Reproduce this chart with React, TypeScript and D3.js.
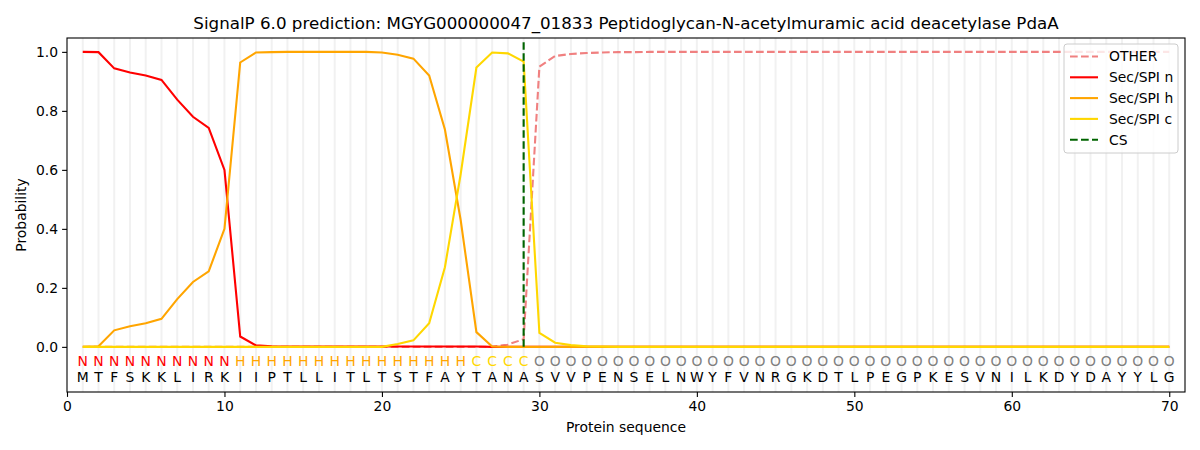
import React, { useEffect, useRef } from 'react';
import * as d3 from 'd3';

const sequence = 'MTFSKKLIRKIIPTLLITLTSTFAYTANASVVPENSELNWYFVNRGKDTLPEGPKESVNILKDYDAYYLG'.split('');
const regionLabels = 'NNNNNNNNNNHHHHHHHHHHHHHHHCCCCOOOOOOOOOOOOOOOOOOOOOOOOOOOOOOOOOOOOOOOOO'.split('');

const otherValues = [
  0, 0, 0, 0, 0, 0, 0, 0, 0, 0,
  0, 0, 0, 0, 0, 0, 0, 0, 0, 0,
  0, 0, 0, 0, 0, 0, 0, 0.008, 0.026, 0.95,
  0.986, 0.993, 0.996, 0.998, 0.999, 0.999, 1, 1, 1, 1,
  1, 1, 1, 1, 1, 1, 1, 1, 1, 1,
  1, 1, 1, 1, 1, 1, 1, 1, 1, 1,
  1, 1, 1, 1, 1, 1, 1, 1, 1, 1,
];
const nValues = [
  1.0, 0.999, 0.944, 0.93, 0.92, 0.905, 0.838, 0.78, 0.742, 0.6,
  0.035, 0.005, 0.002, 0.001, 0.001, 0.001, 0.001, 0.001, 0.001, 0.001,
  0.001, 0.001, 0.001, 0.001, 0.001, 0.001, 0, 0, 0, 0,
  0, 0, 0, 0, 0, 0, 0, 0, 0, 0,
  0, 0, 0, 0, 0, 0, 0, 0, 0, 0,
  0, 0, 0, 0, 0, 0, 0, 0, 0, 0,
  0, 0, 0, 0, 0, 0, 0, 0, 0, 0,
];
const hValues = [
  0, 0.002, 0.056, 0.07, 0.08, 0.095, 0.162, 0.22, 0.256, 0.4,
  0.964, 0.998, 0.999, 1, 1, 1, 1, 1, 1, 0.998,
  0.99, 0.977, 0.92, 0.737, 0.43, 0.05, 0.001, 0, 0, 0,
  0, 0, 0, 0, 0, 0, 0, 0, 0, 0,
  0, 0, 0, 0, 0, 0, 0, 0, 0, 0,
  0, 0, 0, 0, 0, 0, 0, 0, 0, 0,
  0, 0, 0, 0, 0, 0, 0, 0, 0, 0,
];
const cValues = [
  0, 0, 0, 0, 0, 0, 0, 0, 0, 0,
  0, 0, 0, 0, 0, 0, 0, 0, 0, 0,
  0.01, 0.022, 0.08, 0.27, 0.585, 0.947, 0.998, 0.995, 0.967, 0.047,
  0.014, 0.006, 0.002, 0.001, 0, 0, 0, 0, 0, 0,
  0, 0, 0, 0, 0, 0, 0, 0, 0, 0,
  0, 0, 0, 0, 0, 0, 0, 0, 0, 0,
  0, 0, 0, 0, 0, 0, 0, 0, 0, 0,
];
const csPosition = 29;
const csTop = 1.035;
const xTicks = [0, 10, 20, 30, 40, 50, 60, 70];
const yTicks = [0, 0.2, 0.4, 0.6, 0.8, 1.0];

const series = [
  { name: 'OTHER', values: otherValues, color: '#f08080', dashed: true },
  { name: 'Sec/SPI n', values: nValues, color: '#ff0000', dashed: false },
  { name: 'Sec/SPI h', values: hValues, color: '#ffa500', dashed: false },
  { name: 'Sec/SPI c', values: cValues, color: '#ffd700', dashed: false },
];

const labelColors: Record<string, string> = {
  N: '#ff0000',
  H: '#ffa500',
  C: '#ffd700',
  O: '#808080',
};

const W = 1200;
const H = 450;
const FONT = '"DejaVu Sans", sans-serif';

const App: React.FC = () => {
  const svgRef = useRef<SVGSVGElement>(null);

  useEffect(() => {
    if (!svgRef.current) return;
    const svg = d3.select(svgRef.current);
    svg.selectAll('*').remove();

    const margin = { top: 38, right: 15, bottom: 58, left: 67 };
    const x = d3.scaleLinear().domain([0, 71]).range([margin.left, W - margin.right]);
    const y = d3.scaleLinear().domain([-0.153, 1.047]).range([H - margin.bottom, margin.top]);

    svg.append('rect').attr('width', W).attr('height', H).attr('fill', 'white');

    // vertical grid, one line per residue
    svg.append('g')
      .selectAll('line')
      .data(sequence)
      .join('line')
      .attr('x1', (_, i) => x(i + 1))
      .attr('x2', (_, i) => x(i + 1))
      .attr('y1', y.range()[0])
      .attr('y2', y.range()[1])
      .attr('stroke', '#f1f1f1')
      .attr('stroke-width', 2);

    const line = d3.line<number>()
      .x((_, i) => x(i + 1))
      .y(d => y(d));

    series.forEach(s => {
      svg.append('path')
        .datum(s.values)
        .attr('d', line)
        .attr('fill', 'none')
        .attr('stroke', s.color)
        .attr('stroke-width', 2.1)
        .attr('stroke-dasharray', s.dashed ? '7.7,3.3' : null);
    });

    svg.append('line')
      .attr('x1', x(csPosition))
      .attr('x2', x(csPosition))
      .attr('y1', y(0))
      .attr('y2', y(csTop))
      .attr('stroke', '#006400')
      .attr('stroke-width', 2.1)
      .attr('stroke-dasharray', '7.7,3.3');

    // sequence letters
    const letters = svg.append('g')
      .attr('font-family', FONT)
      .attr('font-size', '13.9px')
      .attr('text-anchor', 'middle');
    letters.selectAll('text.lab')
      .data(regionLabels)
      .join('text')
      .attr('class', 'lab')
      .attr('x', (_, i) => x(i + 1))
      .attr('y', 366)
      .attr('fill', d => labelColors[d])
      .text(d => d);
    letters.selectAll('text.aa')
      .data(sequence)
      .join('text')
      .attr('class', 'aa')
      .attr('x', (_, i) => x(i + 1))
      .attr('y', 382)
      .attr('fill', '#000')
      .text(d => d);

    // axes frame
    svg.append('rect')
      .attr('x', margin.left)
      .attr('y', margin.top)
      .attr('width', W - margin.right - margin.left)
      .attr('height', H - margin.bottom - margin.top)
      .attr('fill', 'none')
      .attr('stroke', '#000')
      .attr('stroke-width', 1.1);

    svg.append('g')
      .attr('transform', `translate(0,${H - margin.bottom})`)
      .call(d3.axisBottom(x).tickValues(xTicks).tickSize(4.9).tickPadding(4).tickFormat(d3.format('d')))
      .call(g => g.select('.domain').remove())
      .call(g => g.selectAll('.tick line').attr('stroke', '#000').attr('stroke-width', 1.1))
      .call(g => g.selectAll('.tick text')
        .attr('font-family', FONT).attr('font-size', '13.9px').attr('fill', '#000'));

    svg.append('g')
      .attr('transform', `translate(${margin.left},0)`)
      .call(d3.axisLeft(y).tickValues(yTicks).tickSize(4.9).tickPadding(4).tickFormat(d3.format('.1f')))
      .call(g => g.select('.domain').remove())
      .call(g => g.selectAll('.tick line').attr('stroke', '#000').attr('stroke-width', 1.1))
      .call(g => g.selectAll('.tick text')
        .attr('font-family', FONT).attr('font-size', '13.9px').attr('fill', '#000'));

    svg.append('text')
      .attr('x', (margin.left + W - margin.right) / 2)
      .attr('y', 29)
      .attr('text-anchor', 'middle')
      .attr('font-family', FONT)
      .attr('font-size', '16.7px')
      .text('SignalP 6.0 prediction: MGYG000000047_01833 Peptidoglycan-N-acetylmuramic acid deacetylase PdaA');

    svg.append('text')
      .attr('x', (margin.left + W - margin.right) / 2)
      .attr('y', 432)
      .attr('text-anchor', 'middle')
      .attr('font-family', FONT)
      .attr('font-size', '13.9px')
      .text('Protein sequence');

    svg.append('text')
      .attr('transform', `translate(26,${(margin.top + H - margin.bottom) / 2}) rotate(-90)`)
      .attr('text-anchor', 'middle')
      .attr('font-family', FONT)
      .attr('font-size', '13.9px')
      .text('Probability');

    // legend
    const legendItems = [
      ...series.map(s => ({ name: s.name, color: s.color, dashed: s.dashed })),
      { name: 'CS', color: '#006400', dashed: true },
    ];
    const lg = svg.append('g').attr('transform', 'translate(1064,44)');
    lg.append('rect')
      .attr('width', 114)
      .attr('height', 109)
      .attr('rx', 3)
      .attr('fill', 'white')
      .attr('fill-opacity', 0.8)
      .attr('stroke', '#cccccc')
      .attr('stroke-width', 1);
    legendItems.forEach((item, i) => {
      const yy = 12.5 + i * 20.8;
      lg.append('line')
        .attr('x1', 6)
        .attr('x2', 34)
        .attr('y1', yy)
        .attr('y2', yy)
        .attr('stroke', item.color)
        .attr('stroke-width', 2.1)
        .attr('stroke-dasharray', item.dashed ? '7.7,3.3' : null);
      lg.append('text')
        .attr('x', 45)
        .attr('y', yy)
        .attr('dy', '0.35em')
        .attr('font-family', FONT)
        .attr('font-size', '13.9px')
        .text(item.name);
    });
  }, []);

  return (
    <svg
      ref={svgRef}
      width={W}
      height={H}
      style={{ position: 'absolute', left: 0, top: 0, display: 'block' }}
    />
  );
};

export default App;
